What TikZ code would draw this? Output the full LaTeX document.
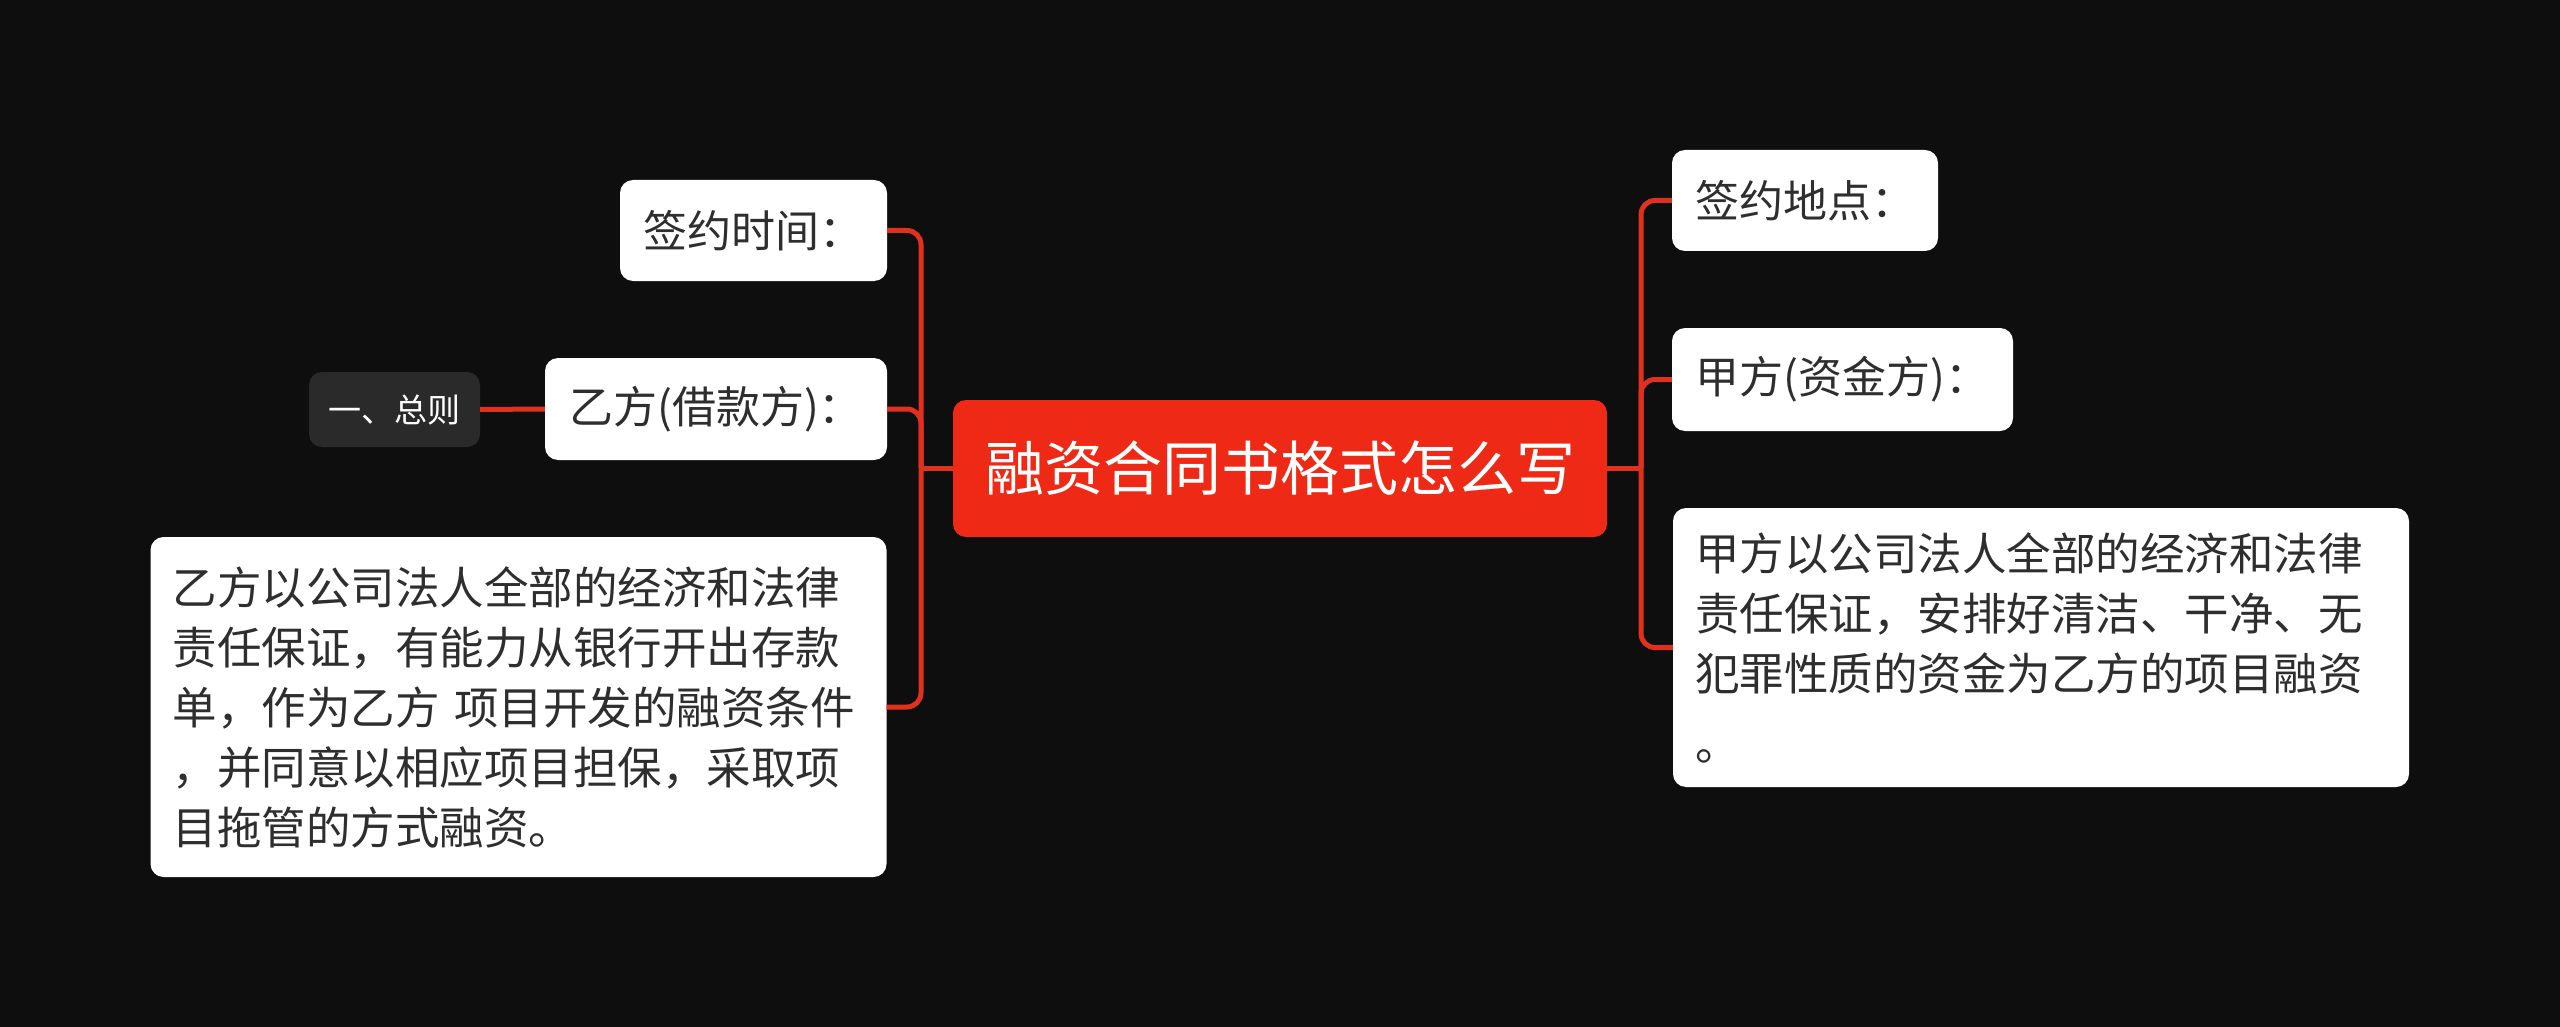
\documentclass[tikz,border=0pt]{standalone}
\usepackage{fontspec}
\setmainfont{Noto Sans CJK SC}
\definecolor{bgc}{HTML}{0E0E0E}
\definecolor{redc}{HTML}{EE2A17}
\definecolor{linec}{HTML}{E0301E}
\definecolor{txtc}{HTML}{2E2E2E}
\definecolor{darkbox}{HTML}{2A2A2A}
\begin{document}
\begin{tikzpicture}[x=1pt,y=-1pt,
  whitebox/.style={fill=white, rounded corners=13pt, inner xsep=22pt, inner ysep=0pt, text=txtc, font=\fontsize{44}{60}\selectfont, align=left},
  para/.style={whitebox, text width=692pt, font=\fontsize{44.5}{60}\selectfont},
  rootbox/.style={fill=redc, rounded corners=13pt, text=white, font=\fontsize{59}{70}\selectfont, inner sep=0pt, minimum width=654pt, minimum height=137pt},
  subbox/.style={fill=darkbox, rounded corners=13pt, text=white, font=\fontsize{33}{40}\selectfont, inner sep=0pt, minimum width=171pt, minimum height=75pt},
  conn/.style={draw=linec, line width=5pt, rounded corners=14pt}]
\useasboundingbox (0,0) rectangle (2560,1027);
\fill[bgc] (0,0) rectangle (2560,1027);

\node[rootbox] (root) at (1280,468.5) {融资合同书格式怎么写};

\node[whitebox, minimum width=267pt, minimum height=101pt] (t1) at (753.5,230.5) {签约时间：};
\node[whitebox, minimum width=342pt, minimum height=102pt] (t2) at (716,409) {乙方(借款方)：};
\node[subbox] (zz) at (394.5,409.5) {一、总则};
\node[para, minimum height=340pt] (lbox) at (518.5,707) {乙方以公司法人全部的经济和法律\\责任保证，有能力从银行开出存款\\单，作为乙方 项目开发的融资条件\\，并同意以相应项目担保，采取项\\目拖管的方式融资。};

\node[whitebox, minimum width=266pt, minimum height=101pt] (r1) at (1805,200.5) {签约地点：};
\node[whitebox, minimum width=341pt, minimum height=103pt] (r2) at (1842.5,379.5) {甲方(资金方)：};
\node[para, minimum height=279pt] (rbox) at (2041,647.5) {甲方以公司法人全部的经济和法律\\责任保证，安排好清洁、干净、无\\犯罪性质的资金为乙方的项目融资\\[10pt]。};

\coordinate (lj) at (921,468.5);
\coordinate (rj) at (1641,468.5);

\draw[conn] (root.west) -- (lj);
\draw[conn] (lj) |- (t1.east);
\draw[conn] (lj) |- (t2.east);
\draw[conn] (lj) |- (lbox.east);
\draw[conn] (t2.west) -- (zz.east);

\draw[conn] (root.east) -- (rj);
\draw[conn] (rj) |- (r1.west);
\draw[conn] (rj) |- (r2.west);
\draw[conn] (rj) |- (rbox.west);
\end{tikzpicture}
\end{document}
